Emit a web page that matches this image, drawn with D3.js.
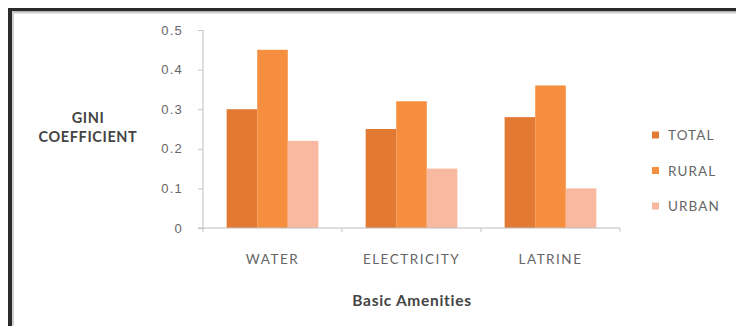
<!DOCTYPE html>
<html>
<head>
<meta charset="utf-8">
<script src="https://cdn.jsdelivr.net/npm/d3@7"></script>
<style>
  html, body { margin: 0; padding: 0; background: #fff; }
  svg { display: block; font-family: Lato, "Open Sans", sans-serif; }
</style>
</head>
<body>
<svg id="chart" width="736" height="326"></svg>
<script>
// Gini coefficient of access to basic amenities
const amenities = ["WATER", "ELECTRICITY", "LATRINE"];
const seriesNames = ["TOTAL", "RURAL", "URBAN"];
const totalValues = [0.30, 0.25, 0.28];
const ruralValues = [0.45, 0.32, 0.36];
const urbanValues = [0.22, 0.15, 0.10];
const yTicks = [0, 0.1, 0.2, 0.3, 0.4, 0.5];
const seriesColors = ["#e37a34", "#f58f3f", "#f9b8a0"];

const seriesValues = [totalValues, ruralValues, urbanValues];

const svg = d3.select("#chart");
const W = 736, H = 326;

// frame: heavy dark edge on the top and left
svg.append("rect").attr("x", 0).attr("y", 0).attr("width", W).attr("height", H).attr("fill", "#fff");
svg.append("rect").attr("x", 8).attr("y", 8).attr("width", W - 8).attr("height", 3.5).attr("fill", "#2a2a2a");
svg.append("rect").attr("x", 8).attr("y", 8).attr("width", 4).attr("height", H - 8).attr("fill", "#2a2a2a");
svg.append("rect").attr("x", 12).attr("y", 11.5).attr("width", W - 12).attr("height", 2).attr("fill", "#cfcfcf");
svg.append("rect").attr("x", 12).attr("y", 11.5).attr("width", 2).attr("height", H - 12).attr("fill", "#cfcfcf");

const plot = { left: 203, right: 620, top: 30, bottom: 228 };

const x = d3.scaleBand().domain(amenities).range([plot.left, plot.right]).paddingInner(0.34).paddingOuter(0.17);
const xs = d3.scaleBand().domain(seriesNames).range([0, x.bandwidth()]);
const y = d3.scaleLinear().domain([0, 0.5]).range([plot.bottom, plot.top]);

// bars
const groups = svg.append("g").selectAll("g").data(amenities).join("g")
  .attr("transform", d => `translate(${x(d)},0)`);
groups.selectAll("rect")
  .data((d, i) => seriesNames.map((s, k) => ({ s, k, v: seriesValues[k][i] })))
  .join("rect")
  .attr("x", d => xs(d.s))
  .attr("width", xs.bandwidth())
  .attr("y", d => y(d.v))
  .attr("height", d => y(0) - y(d.v))
  .attr("fill", d => seriesColors[d.k]);

// y axis
const yAxis = svg.append("g").attr("transform", `translate(${plot.left},0)`)
  .call(d3.axisLeft(y).tickValues(yTicks).tickFormat(d => d === 0 ? "0" : d3.format(".1f")(d)).tickSize(5).tickPadding(15));
yAxis.select(".domain").attr("stroke", "#bdbdbd").attr("d", `M0,${plot.top}V${plot.bottom}`);
yAxis.selectAll(".tick line").attr("stroke", "#c4c4c4");
yAxis.selectAll(".tick text").attr("fill", "#666").attr("font-size", 13).attr("letter-spacing", 1.2);

// x axis baseline with ticks between categories
const xAxis = svg.append("g").attr("transform", `translate(0,${plot.bottom})`);
xAxis.append("line").attr("x1", plot.left - 5).attr("x2", plot.right).attr("stroke", "#bdbdbd");
xAxis.selectAll("line.sep").data(d3.range(amenities.length + 1)).join("line")
  .attr("class", "sep")
  .attr("x1", i => plot.left + i * (plot.right - plot.left) / amenities.length)
  .attr("x2", i => plot.left + i * (plot.right - plot.left) / amenities.length)
  .attr("y1", 0).attr("y2", 4).attr("stroke", "#c4c4c4");
xAxis.selectAll("text").data(amenities).join("text")
  .attr("x", d => x(d) + x.bandwidth() / 2)
  .attr("y", 36)
  .attr("text-anchor", "middle")
  .attr("fill", "#666")
  .attr("font-size", 13.5)
  .attr("letter-spacing", 1.5)
  .text(d => d);

// axis titles
svg.append("text").attr("x", 412).attr("y", 306).attr("text-anchor", "middle")
  .attr("font-size", 15.5).attr("font-weight", "bold").attr("fill", "#444")
  .attr("letter-spacing", 0.7).text("Basic Amenities");
const yTitle = svg.append("text").attr("text-anchor", "middle").attr("font-size", 14.5)
  .attr("font-weight", "bold").attr("fill", "#444").attr("letter-spacing", 0.6);
yTitle.append("tspan").attr("x", 88).attr("y", 123).text("GINI");
yTitle.append("tspan").attr("x", 88).attr("y", 142).text("COEFFICIENT");

// legend
const legend = svg.append("g").selectAll("g").data(seriesNames).join("g")
  .attr("transform", (d, i) => `translate(652,${135 + i * 35.5})`);
legend.append("rect").attr("x", 0).attr("y", -3.5).attr("width", 7).attr("height", 7)
  .attr("fill", (d, i) => seriesColors[i]);
legend.append("text").attr("x", 16).attr("y", 5).attr("font-size", 13.5).attr("fill", "#666")
  .attr("letter-spacing", 1.1).text(d => d);
</script>
</body>
</html>
